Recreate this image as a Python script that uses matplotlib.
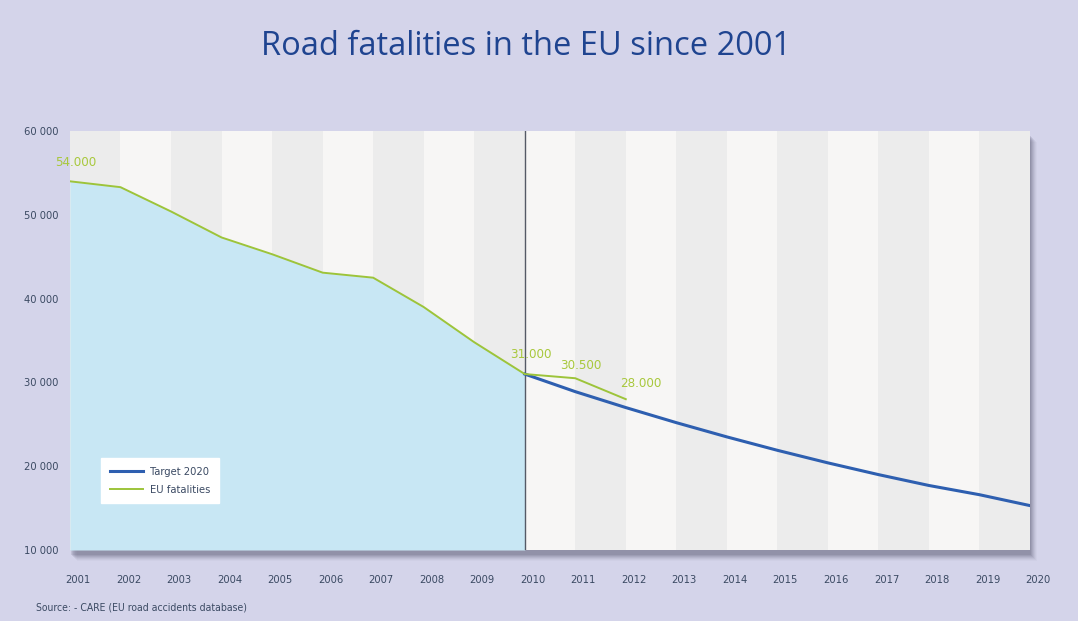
import matplotlib.pyplot as plt
import matplotlib.patches as mpatches
import matplotlib.transforms as mtransforms

years = list(range(2001, 2021))
eu_years = [2001, 2002, 2003, 2004, 2005, 2006, 2007, 2008, 2009, 2010, 2011, 2012]
eu_fatalities = [54000, 53300, 50400, 47300, 45300, 43100, 42500, 39000, 34800, 31000, 30500, 28000]
target_years = [2010, 2011, 2012, 2013, 2014, 2015, 2016, 2017, 2018, 2019, 2020]
target_values = [31000, 28900, 27000, 25200, 23500, 21900, 20400, 19000, 17700, 16600, 15300]
label_years = [2001, 2010, 2011, 2012]
label_texts = ["54.000", "31.000", "30.500", "28.000"]
y_ticks = [10000, 20000, 30000, 40000, 50000, 60000]

# pixel offsets of the value labels from their points
label_offsets = [(-15, 19), (-15, 20), (-15, 13), (-6, 16)]

bg = "#d4d4ea"
green = "#9dc43a"
blue = "#2e5fb0"
text_col = "#3b4a63"

plt.rcParams['font.family'] = ['DejaVu Sans']
plt.rcParams['font.stretch'] = 'condensed'

fig = plt.figure(figsize=(10.78, 6.21), dpi=100, facecolor=bg)
ax = fig.add_axes([0.0649, 0.1143, 0.8906, 0.6747])

# drop shadow behind plot area
for i, a in enumerate([0.03, 0.05, 0.07, 0.09, 0.11, 0.13, 0.15]):
    off = (10 - i) / 1078
    offy = (11 - i) / 621
    fig.patches.append(mpatches.Rectangle((0.0649 + off - 0.003, 0.1143 - offy), 0.8906, 0.6747,
                                          transform=fig.transFigure, facecolor="#50506a",
                                          alpha=a, edgecolor="none", zorder=-1))

ax.set_facecolor("#f7f6f5")
for i in range(len(years) - 1):
    if i % 2 == 0:
        ax.axvspan(years[i], years[i + 1], color="#ececec", lw=0, zorder=0)

fill_x = [y for y in eu_years if y <= 2010]
fill_y = eu_fatalities[:len(fill_x)]
ax.fill_between(fill_x, fill_y, 10000, color="#c8e7f4", lw=0, zorder=1)
ax.axvline(2010, color="#555a66", lw=1.0, zorder=2)

ax.plot(target_years, target_values, color=blue, lw=2.2, label="Target 2020", zorder=3)
ax.plot(eu_years, eu_fatalities, color=green, lw=1.4, label="EU fatalities", zorder=4)

for yr, txt, (dx, dy) in zip(label_years, label_texts, label_offsets):
    val = eu_fatalities[eu_years.index(yr)]
    ax.annotate(txt, (yr, val), xytext=(dx, dy), textcoords="offset pixels",
                color="#a8c83c", fontsize=9.5, ha="left", va="center", zorder=5)

ax.set_xlim(2001, 2020)
ax.set_ylim(10000, 60000)
ax.set_xticks(years)
ax.set_xticklabels([str(y) for y in years], fontsize=8, color=text_col)
ax.set_yticks(y_ticks)
ax.set_yticklabels([f"{v // 1000} 000" for v in y_ticks], fontsize=8, color=text_col)
ax.tick_params(length=0, pad=8)
ax.tick_params(axis="x", pad=18)
offset = mtransforms.ScaledTranslation(8 / 100, 0, fig.dpi_scale_trans)
for lab in ax.get_xticklabels():
    lab.set_transform(lab.get_transform() + offset)
for s in ax.spines.values():
    s.set_visible(False)

leg = ax.legend(loc="upper left", bbox_to_anchor=(0.032, 0.22), frameon=True, fancybox=False,
                fontsize=8, handlelength=3.0, handletextpad=0.6, borderpad=0.8,
                labelspacing=0.7, borderaxespad=0, edgecolor="white", framealpha=1)
for t in leg.get_texts():
    t.set_color(text_col)

fig.text(0.488, 0.925, "Road fatalities in the EU since 2001", fontsize=23.5, color="#1f4490",
         ha="center", va="center", family=['Open Sans', 'DejaVu Sans'], stretch='normal')
fig.text(0.033, 0.021, "Source: - CARE (EU road accidents database)", fontsize=7.5, color=text_col,
         ha="left", va="center")

fig.savefig("out.png", dpi=100, facecolor=bg)
